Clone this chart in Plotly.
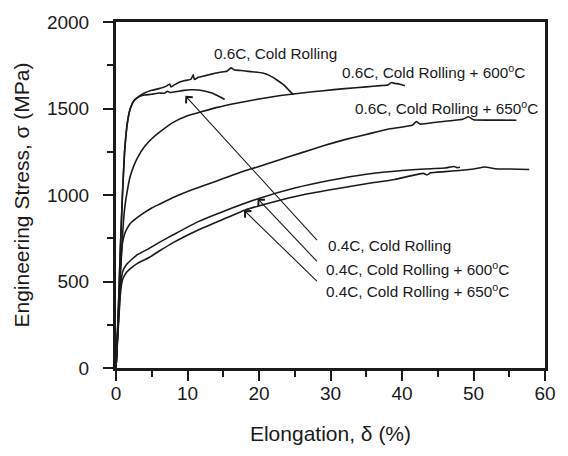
import plotly.graph_objects as go

# ---------------- data ----------------
# 0.6C, Cold Rolling
x_06_cr = [0, 0.3, 0.6, 0.9, 1.2, 1.6, 2.0, 2.5, 3.2, 4.0, 5.0, 6.0, 7.0, 7.5, 7.7, 8.5, 9.5,
           10.5, 10.8, 10.95, 11.5, 12.5, 13.5, 14.5, 15.5, 16.1, 16.6, 17.5, 19.0, 20.5, 21.5,
           22.5, 23.5, 24.2, 24.8]
s_06_cr = [0, 300, 680, 1000, 1250, 1420, 1500, 1545, 1570, 1590, 1605, 1615, 1628, 1642, 1625,
           1645, 1660, 1670, 1695, 1668, 1680, 1690, 1700, 1710, 1715, 1735, 1722, 1720, 1712,
           1705, 1690, 1665, 1635, 1605, 1580]

# 0.4C, Cold Rolling
x_04_cr = [0, 0.3, 0.6, 0.9, 1.2, 1.6, 2.0, 2.5, 3.2, 4.0, 5.0, 6.0, 6.8, 7.2, 7.6, 8.5, 9.5,
           10.5, 11.5, 12.5, 13.5, 14.3, 15.2]
s_04_cr = [0, 300, 680, 1000, 1250, 1420, 1500, 1545, 1568, 1578, 1582, 1590, 1588, 1600, 1592,
           1598, 1605, 1608, 1607, 1600, 1588, 1572, 1552]

# 0.6C, Cold Rolling + 600C
x_06_600 = [0, 0.3, 0.6, 0.9, 1.2, 1.6, 2.0, 2.5, 3, 4, 5, 6, 8, 10, 12, 14, 17, 20, 23, 26,
            29, 32, 35, 37, 38, 38.5, 39, 39.6, 40.4]
s_06_600 = [0, 250, 520, 760, 920, 1030, 1110, 1170, 1215, 1280, 1325, 1360, 1420, 1458, 1482,
            1505, 1532, 1555, 1575, 1590, 1603, 1615, 1625, 1632, 1636, 1650, 1645, 1642, 1632]

# 0.6C, Cold Rolling + 650C
x_06_650 = [0, 0.3, 0.6, 0.9, 1.2, 1.6, 2, 3, 4, 5, 6, 8, 10, 12, 14, 16, 18, 20, 23, 26, 29,
            32, 35, 38, 41.5, 42.0, 42.5, 45, 48.5, 49.3, 50.0, 52, 54, 56]
s_06_650 = [0, 280, 560, 720, 775, 810, 835, 870, 900, 925, 945, 985, 1020, 1050, 1080, 1110,
            1140, 1165, 1205, 1245, 1285, 1320, 1350, 1380, 1405, 1425, 1410, 1422, 1438, 1452,
            1435, 1433, 1433, 1432]

# 0.4C, Cold Rolling + 600C
x_04_600 = [0, 0.3, 0.6, 0.8, 1.0, 1.5, 2, 3, 4.7, 6, 8, 11.5, 15, 20, 25, 30, 35, 40, 44,
            46, 47.3, 47.7, 48.1]
s_04_600 = [0, 240, 460, 530, 565, 600, 620, 655, 693, 725, 770, 846, 905, 980, 1040, 1085,
            1120, 1142, 1152, 1156, 1165, 1158, 1160]

# 0.4C, Cold Rolling + 650C
x_04_650 = [0, 0.3, 0.6, 0.8, 1.0, 1.5, 2, 3, 4.7, 6, 8, 11.5, 15, 18, 22, 26, 30, 35, 39,
            43, 43.5, 44, 46, 48, 50, 51.6, 53, 55, 57.8]
s_04_650 = [0, 220, 420, 490, 520, 555, 575, 605, 640, 675, 725, 798, 860, 912, 960, 1000,
            1030, 1065, 1090, 1125, 1116, 1128, 1135, 1142, 1150, 1162, 1152, 1150, 1147]

# labels
top_labels = ["0.6C, Cold Rolling", "0.6C, Cold Rolling + 600<sup>o</sup>C",
              "0.6C, Cold Rolling + 650<sup>o</sup>C"]
top_label_x = [22.25, 44.35, 46.2]
top_label_y = [1817, 1714, 1503]

arrow_labels = ["0.4C, Cold Rolling", "0.4C, Cold Rolling + 600<sup>o</sup>C",
                "0.4C, Cold Rolling + 650<sup>o</sup>C"]
arrow_label_x = [29.4, 29.1, 29.1]
arrow_label_y = [707, 575, 450]
arrow_tip_x = [9.7, 19.8, 17.9]
arrow_tip_y = [1573, 979, 912]
arrow_tail_x = [28.3, 28.3, 28.3]
arrow_tail_y = [731, 608, 494]

x_ticks = [0, 10, 20, 30, 40, 50, 60]
y_ticks = [0, 500, 1000, 1500, 2000]

# ---------------- figure ----------------
FONT = "Liberation Sans, Arial, Helvetica, sans-serif"
INK = "#1a1a1a"

fig = go.Figure()
series = [(x_06_cr, s_06_cr), (x_04_cr, s_04_cr), (x_06_600, s_06_600),
          (x_06_650, s_06_650), (x_04_600, s_04_600), (x_04_650, s_04_650)]
for xs, ys in series:
    fig.add_trace(go.Scatter(x=xs, y=ys, mode="lines",
                             line=dict(color=INK, width=1.6, shape="spline", smoothing=0.4),
                             showlegend=False, hoverinfo="skip"))

for t, x, y in zip(top_labels, top_label_x, top_label_y):
    fig.add_annotation(x=x, y=y, text=t, showarrow=False, xanchor="center", yanchor="middle",
                       font=dict(family=FONT, size=15.3, color=INK))

for t, x, y in zip(arrow_labels, arrow_label_x, arrow_label_y):
    fig.add_annotation(x=x, y=y, text=t, showarrow=False, xanchor="left", yanchor="middle",
                       font=dict(family=FONT, size=15.3, color=INK))

for tx, ty, ax, ay in zip(arrow_tip_x, arrow_tip_y, arrow_tail_x, arrow_tail_y):
    fig.add_annotation(x=tx, y=ty, ax=ax, ay=ay, axref="x", ayref="y", text="",
                       showarrow=True, arrowhead=4, arrowsize=1.6, arrowwidth=1.1,
                       arrowcolor=INK)

fig.update_layout(
    width=568, height=456, autosize=False,
    margin=dict(l=116, r=15, t=18, b=88),
    paper_bgcolor="white", plot_bgcolor="white",
    font=dict(family=FONT, color=INK),
    showlegend=False,
)
fig.update_xaxes(
    range=[0, 60], tickvals=x_ticks, ticks="outside", ticklen=10, tickwidth=1.5,
    tickcolor=INK, showgrid=False, zeroline=False, showline=True, linewidth=3,
    linecolor=INK, mirror=True, tickfont=dict(size=19, color=INK),
    minor=dict(dtick=5, ticks="outside", ticklen=6, tickwidth=1.5, tickcolor=INK, showgrid=False),
    ticklabelstandoff=-4,
    title=dict(text="Elongation, \u03b4 (%)", font=dict(size=21, color=INK), standoff=24),
)
fig.update_yaxes(
    range=[0, 2000], tickvals=y_ticks, ticks="outside", ticklen=10, tickwidth=1.5,
    tickcolor=INK, showgrid=False, zeroline=False, showline=True, linewidth=3,
    linecolor=INK, mirror=True, tickfont=dict(size=19, color=INK),
    minor=dict(dtick=250, ticks="outside", ticklen=6, tickwidth=1.5, tickcolor=INK, showgrid=False),
    ticklabelstandoff=10,
    title=dict(text="Engineering Stress, \u03c3 (MPa)", font=dict(size=21, color=INK), standoff=12),
)

fig.write_html("out.html", config={"displayModeBar": False},
               post_script="document.body.style.margin='0px';document.body.style.padding='0px';")
